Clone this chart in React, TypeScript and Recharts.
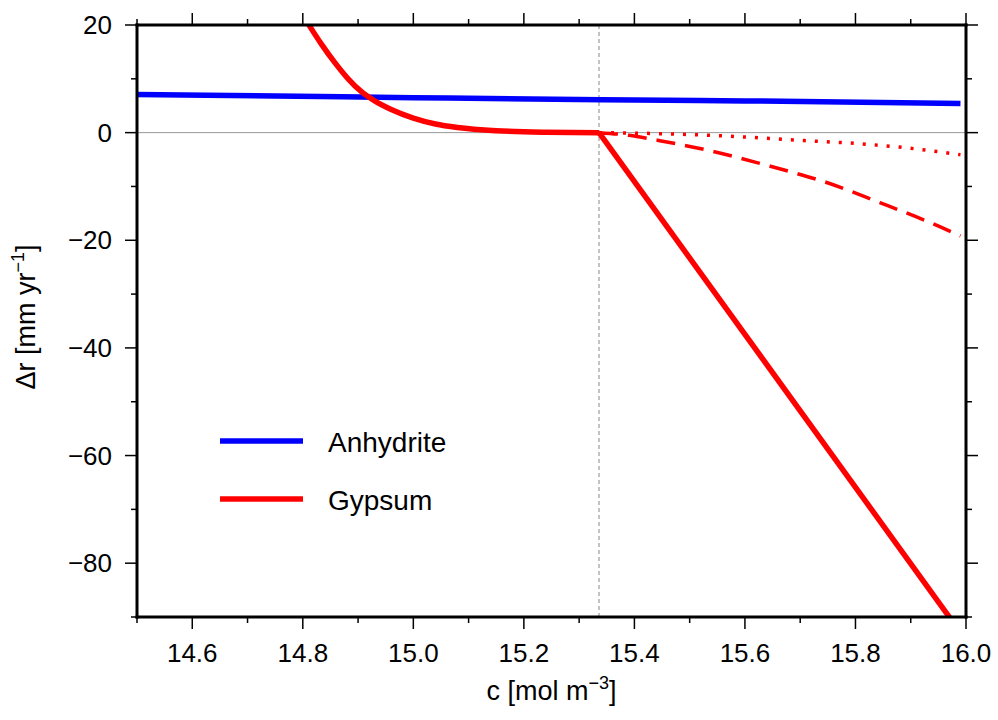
import React from 'react';
import { LineChart, Line, XAxis, YAxis, ReferenceLine, Legend } from 'recharts';

const FONT = '"Liberation Sans", Arial, Helvetica, sans-serif';

// series: c [mol m-3] vs dr [mm/yr]
const anhydriteC = [14.5, 14.75, 15.0, 15.34, 15.6, 15.99];
const anhydriteR = [7.1, 6.8, 6.5, 6.1, 5.9, 5.4];

const gypsumC = [14.78, 14.813, 14.834, 14.858, 14.882, 14.906, 14.93, 14.96, 15.0, 15.04, 15.08, 15.15, 15.24, 15.336];
const gypsumR = [25.3, 19.7, 16.4, 13.0, 10.0, 7.6, 5.9, 4.3, 2.7, 1.6, 0.95, 0.35, 0.08, 0];

const gypsumSteepC = [15.336, 16.0];
const gypsumSteepR = [0, -94.3];

const dashedC = [15.336, 15.39, 15.446, 15.53, 15.63, 15.68, 15.74, 15.844, 15.935, 15.99];
const dashedR = [0, -0.5, -1.5, -3.2, -5.8, -7.2, -9.0, -13.0, -16.7, -19.2];

const dottedC = [15.336, 15.45, 15.56, 15.694, 15.826, 15.916, 15.99];
const dottedR = [0, -0.2, -0.6, -1.4, -2.2, -3.1, -4.1];

const saturationC = 15.336;

const xTicks = [14.5, 14.6, 14.7, 14.8, 14.9, 15.0, 15.1, 15.2, 15.3, 15.4, 15.5, 15.6, 15.7, 15.8, 15.9, 16.0];
const xLabels = [14.6, 14.8, 15.0, 15.2, 15.4, 15.6, 15.8, 16.0];
const yTicks = [-90, -80, -70, -60, -50, -40, -30, -20, -10, 0, 10, 20];
const yLabels = [-80, -60, -40, -20, 0, 20];

const legendItems = [
  { name: 'Anhydrite', color: '#0000ff' },
  { name: 'Gypsum', color: '#ff0000' },
];

const zip = (cs: number[], rs: number[]) => cs.map((c, i) => ({ c, r: rs[i] }));

const isIn = (list: number[], v: number) => list.some((t) => Math.abs(t - v) < 1e-6);

const fmtY = (v: number) => (v < 0 ? '\u2212' + Math.abs(v) : String(v));

const XTick = (props: any) => {
  const { x, y, payload, side } = props;
  const v = payload.value;
  const major = isIn(xLabels, v);
  const len = major ? 12 : 6;
  const dir = side === 'top' ? -1 : 1;
  return (
    <g>
      <line x1={x} x2={x} y1={y} y2={y + dir * len} stroke="#000" strokeWidth={1.5} />
      {side === 'bottom' && major && (
        <text x={x} y={y + 45} textAnchor="middle" fontSize={26} fontFamily={FONT} fill="#000">
          {v.toFixed(1)}
        </text>
      )}
    </g>
  );
};

const YTick = (props: any) => {
  const { x, y, payload, side } = props;
  const v = payload.value;
  const major = isIn(yLabels, v);
  const len = major ? 12 : 6;
  const dir = side === 'left' ? -1 : 1;
  return (
    <g>
      <line x1={x} x2={x + dir * len} y1={y} y2={y} stroke="#000" strokeWidth={1.5} />
      {side === 'left' && major && (
        <text x={x - 25} y={y + 9} textAnchor="end" fontSize={26} fontFamily={FONT} fill="#000">
          {fmtY(v)}
        </text>
      )}
    </g>
  );
};

const XTitle = (props: any) => {
  const vb = props.viewBox || { x: 137, y: 617, width: 829, height: 103 };
  return (
    <text x={vb.x + vb.width / 2} y={vb.y + 83} textAnchor="middle" fontSize={27} fontFamily={FONT} fill="#000">
      c [mol m
      <tspan dy={-11} fontSize={18}>{'\u22123'}</tspan>
      <tspan dy={11}>]</tspan>
    </text>
  );
};

const YTitle = (props: any) => {
  const vb = props.viewBox || { x: 0, y: 25, width: 137, height: 592 };
  const cx = vb.x + 35;
  const cy = vb.y + vb.height / 2 - 4;
  return (
    <text
      x={cx}
      y={cy}
      textAnchor="middle"
      transform={`rotate(-90, ${cx}, ${cy})`}
      fontSize={27}
      fontFamily={FONT}
      fill="#000"
    >
      {'\u0394r [mm yr'}
      <tspan dy={-11} fontSize={18}>{'\u22121'}</tspan>
      <tspan dy={11}>]</tspan>
    </text>
  );
};

const renderLegend = () => (
  <svg width={270} height={110}>
    {legendItems.map((item, i) => (
      <g key={item.name}>
        <line x1={5} x2={88} y1={30 + i * 58} y2={30 + i * 58} stroke={item.color} strokeWidth={5.5} />
        <text x={113} y={41 + i * 58} fontSize={28} fontFamily={FONT} fill="#000">
          {item.name}
        </text>
      </g>
    ))}
  </svg>
);

const frame = { stroke: '#000', strokeWidth: 3, strokeLinecap: 'square' as const };

export default function App() {
  return (
    <div style={{ position: 'absolute', left: 0, top: 0, width: 998, height: 720, background: '#fff', fontFamily: FONT }}>
      <LineChart width={998} height={720} margin={{ top: 24, right: 31, bottom: 0, left: 0 }}>
        <XAxis
          xAxisId="bottom"
          type="number"
          dataKey="c"
          domain={[14.5, 16]}
          ticks={xTicks}
          interval={0}
          allowDataOverflow
          height={103}
          tickSize={0}
          tickMargin={0}
          tickLine={false}
          axisLine={frame}
          tick={<XTick side="bottom" />}
          label={<XTitle />}
        />
        <XAxis
          xAxisId="top"
          orientation="top"
          type="number"
          dataKey="c"
          domain={[14.5, 16]}
          ticks={xTicks}
          interval={0}
          allowDataOverflow
          height={1}
          tickSize={0}
          tickMargin={0}
          tickLine={false}
          axisLine={frame}
          tick={<XTick side="top" />}
        />
        <YAxis
          yAxisId="left"
          type="number"
          domain={[-90, 20]}
          ticks={yTicks}
          interval={0}
          allowDataOverflow
          width={137}
          tickSize={0}
          tickMargin={0}
          tickLine={false}
          axisLine={frame}
          tick={<YTick side="left" />}
          label={<YTitle />}
        />
        <YAxis
          yAxisId="right"
          orientation="right"
          type="number"
          domain={[-90, 20]}
          ticks={yTicks}
          interval={0}
          allowDataOverflow
          width={1}
          tickSize={0}
          tickMargin={0}
          tickLine={false}
          axisLine={frame}
          tick={<YTick side="right" />}
        />
        <ReferenceLine xAxisId="top" yAxisId="right" y={0} stroke="#999" strokeOpacity={0} />
        <ReferenceLine xAxisId="bottom" yAxisId="left" y={0} stroke="#999" strokeWidth={1} />
        <ReferenceLine
          xAxisId="bottom"
          yAxisId="left"
          x={saturationC}
          stroke="#888"
          strokeWidth={1}
          strokeDasharray="4 3"
        />
        <Legend
          layout="horizontal"
          verticalAlign="middle"
          align="center"
          content={renderLegend}
          wrapperStyle={{ position: 'absolute', left: 215, top: 411, width: 270, height: 110 }}
        />
        <Line
          xAxisId="bottom"
          yAxisId="left"
          data={zip(anhydriteC, anhydriteR)}
          dataKey="r"
          type="monotone"
          stroke="#0000ff"
          strokeWidth={5.5}
          dot={false}
          activeDot={false}
          isAnimationActive={false}
        />
        <Line
          xAxisId="bottom"
          yAxisId="left"
          data={zip(dottedC, dottedR)}
          dataKey="r"
          type="monotone"
          stroke="#ff0000"
          strokeWidth={3.5}
          strokeDasharray="3 9"
          dot={false}
          activeDot={false}
          isAnimationActive={false}
        />
        <Line
          xAxisId="bottom"
          yAxisId="left"
          data={zip(dashedC, dashedR)}
          dataKey="r"
          type="monotone"
          stroke="#ff0000"
          strokeWidth={3.5}
          strokeDasharray="19 10"
          dot={false}
          activeDot={false}
          isAnimationActive={false}
        />
        <Line
          xAxisId="bottom"
          yAxisId="left"
          data={zip(gypsumC, gypsumR)}
          dataKey="r"
          type="monotone"
          stroke="#ff0000"
          strokeWidth={5.5}
          dot={false}
          activeDot={false}
          isAnimationActive={false}
        />
        <Line
          xAxisId="bottom"
          yAxisId="left"
          data={zip(gypsumSteepC, gypsumSteepR)}
          dataKey="r"
          type="linear"
          stroke="#ff0000"
          strokeWidth={5.5}
          dot={false}
          activeDot={false}
          isAnimationActive={false}
        />
      </LineChart>
    </div>
  );
}
